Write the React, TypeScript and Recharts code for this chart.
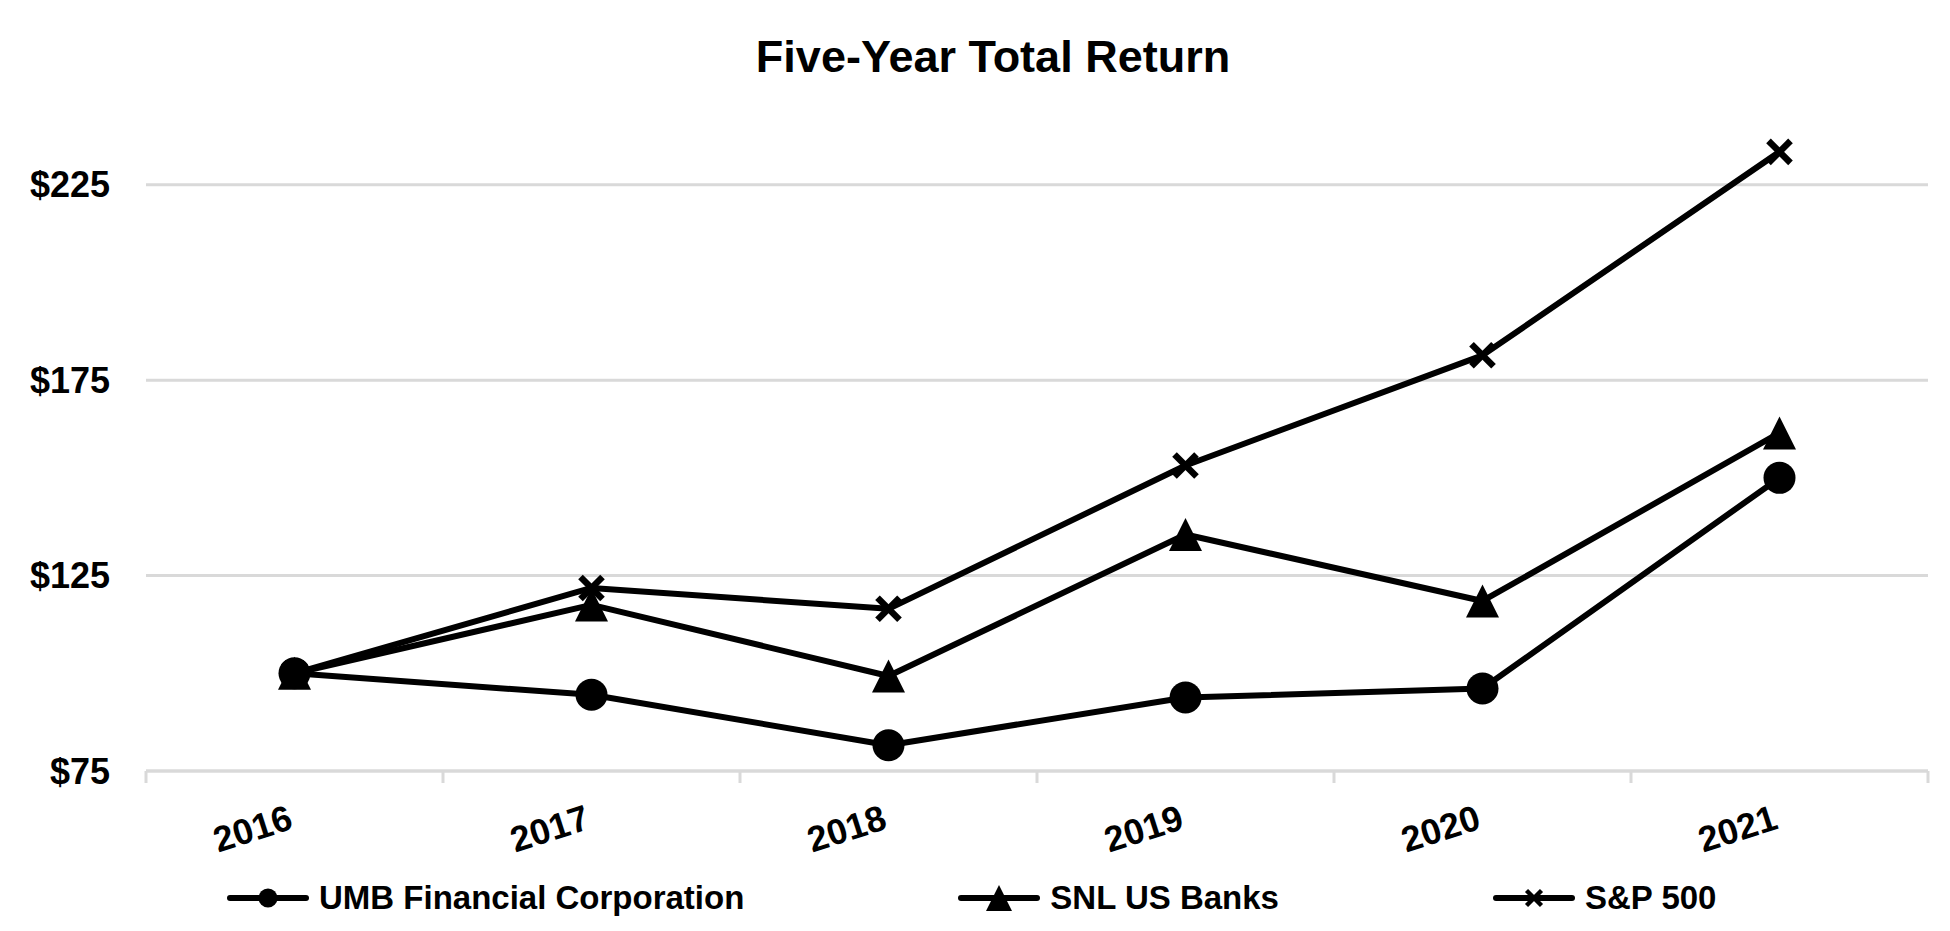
import React from 'react';

import { CartesianGrid, Legend, Line, LineChart, XAxis, YAxis } from 'recharts';

const years = ['2016', '2017', '2018', '2019', '2020', '2021'];
const umbReturn = [100, 94.5, 81.6, 93.8, 96.1, 150.0];
const snlBanksReturn = [100, 117.5, 99.3, 135.5, 118.5, 161.5];
const sp500Return = [100, 121.83, 116.49, 153.17, 181.35, 233.41];
const yTicks = [75, 125, 175, 225];

const series = [
  { key: 'umb', name: 'UMB Financial Corporation', marker: 'circle' },
  { key: 'snl', name: 'SNL US Banks', marker: 'triangle' },
  { key: 'sp500', name: 'S&P 500', marker: 'cross' },
];

const data = years.map((year, i) => ({
  pos: i,
  year,
  umb: umbReturn[i],
  snl: snlBanksReturn[i],
  sp500: sp500Return[i],
}));

// tick marks sit between categories, labels sit on them
const boundaryTicks = [-0.5, ...years.map((_, i) => i + 0.5)];
const centerTicks = years.map((_, i) => i);

const FONT = '"Liberation Sans", Arial, Helvetica, sans-serif';
const GRID = '#d9d9d9';

function Marker({ kind, cx, cy, size }: { kind: string; cx: number; cy: number; size: number }) {
  if (kind === 'circle') {
    return <circle cx={cx} cy={cy} r={size / 2} fill="#000" />;
  }
  if (kind === 'triangle') {
    const h = size / 2;
    return (
      <path
        d={`M${cx},${cy - h} L${cx + h},${cy + h} L${cx - h},${cy + h} Z`}
        fill="#000"
      />
    );
  }
  const a = size / 2;
  return (
    <g stroke="#000" strokeWidth={size / 3.4}>
      <line x1={cx - a} y1={cy - a} x2={cx + a} y2={cy + a} />
      <line x1={cx - a} y1={cy + a} x2={cx + a} y2={cy - a} />
    </g>
  );
}

const markerSize: Record<string, number> = { circle: 32, triangle: 33, cross: 22 };

const makeDot = (kind: string) => (props: any) => {
  const { cx, cy, index } = props;
  if (cx == null || cy == null) return <g key={index} />;
  return <Marker key={index} kind={kind} cx={cx} cy={cy} size={markerSize[kind]} />;
};

function YearTick(props: any) {
  const { x, y, payload } = props;
  const tx = x;
  const ty = y + 43;
  return (
    <text
      x={tx}
      y={ty}
      transform={`rotate(-18, ${tx}, ${ty})`}
      textAnchor="end"
      fontSize={36}
      fontWeight={700}
      fontFamily={FONT}
      fill="#000"
    >
      {years[payload.value]}
    </text>
  );
}

const legendMarkerSize: Record<string, number> = { circle: 19, triangle: 26, cross: 15 };

const renderLegend = () => (
  <div
    style={{
      height: 66,
      display: 'flex',
      alignItems: 'center',
      paddingLeft: 227,
      gap: 214,
      boxSizing: 'border-box',
    }}
  >
    {series.map((s) => (
      <div key={s.key} style={{ display: 'flex', alignItems: 'center', gap: 10 }}>
        <svg width={82} height={34}>
          <line x1={3} y1={17} x2={79} y2={17} stroke="#000" strokeWidth={6} strokeLinecap="round" />
          <Marker kind={s.marker} cx={41} cy={17} size={legendMarkerSize[s.marker]} />
        </svg>
        <span style={{ fontFamily: FONT, fontSize: 33, fontWeight: 700, color: '#000' }}>
          {s.name}
        </span>
      </div>
    ))}
  </div>
);

export default function App() {
  return (
    <div
      style={{
        position: 'absolute',
        left: 0,
        top: 0,
        width: 1950,
        height: 931,
        background: '#fff',
        fontFamily: FONT,
      }}
    >
      <div
        style={{
          position: 'absolute',
          left: 993,
          top: 34,
          transform: 'translateX(-50%)',
          fontSize: 45,
          lineHeight: 1,
          fontWeight: 700,
          whiteSpace: 'nowrap',
          color: '#000',
        }}
      >
        Five-Year Total Return
      </div>
      <LineChart
        width={1950}
        height={931}
        data={data}
        margin={{ top: 87, right: 22, left: 0, bottom: 0 }}
      >
        <CartesianGrid
          vertical={false}
          horizontalValues={yTicks}
          stroke={GRID}
          strokeWidth={3}
        />
        <YAxis
          type="number"
          domain={[75, 250]}
          ticks={yTicks}
          width={146}
          axisLine={false}
          tickLine={false}
          tickSize={0}
          tickMargin={36}
          tickFormatter={(v) => `$${v}`}
          tick={{ fontSize: 36, fontWeight: 700, fill: '#000', fontFamily: FONT }}
        />
        <XAxis
          dataKey="pos"
          type="number"
          domain={[-0.5, 5.5]}
          ticks={boundaryTicks}
          interval={0}
          height={14}
          tickSize={12}
          axisLine={{ stroke: GRID, strokeWidth: 3 }}
          tickLine={{ stroke: GRID, strokeWidth: 3 }}
          tick={{ fontSize: 1, fill: 'none' }}
          tickFormatter={() => ''}
        />
        <XAxis
          xAxisId="labels"
          dataKey="pos"
          type="number"
          domain={[-0.5, 5.5]}
          ticks={centerTicks}
          interval={0}
          height={80}
          axisLine={false}
          tickLine={false}
          tickSize={0}
          tickMargin={0}
          tick={<YearTick />}
        />
        <Legend
          verticalAlign="bottom"
          align="left"
          width={1950}
          wrapperStyle={{ left: 0 }}
          content={renderLegend}
        />
        {series.map((s) => (
          <Line
            key={s.key}
            type="linear"
            dataKey={s.key}
            name={s.name}
            stroke="#000"
            strokeWidth={6}
            strokeLinejoin="round"
            dot={makeDot(s.marker)}
            activeDot={false}
            isAnimationActive={false}
          />
        ))}
      </LineChart>
    </div>
  );
}
